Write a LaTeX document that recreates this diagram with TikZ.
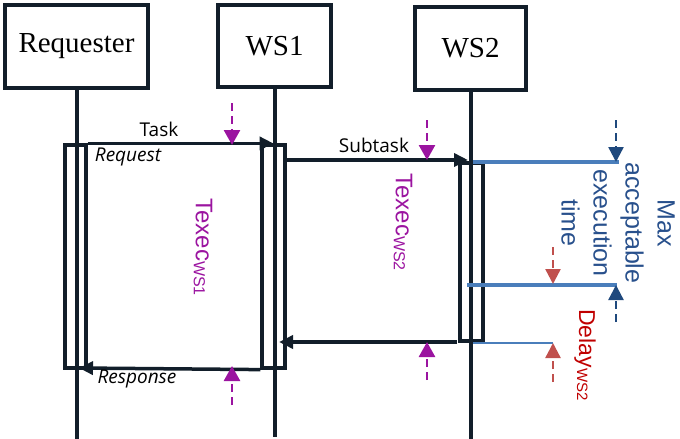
\documentclass[tikz,border=0pt]{standalone}
\usepackage{fontspec}
\setmainfont{Liberation Serif}
\newfontfamily\labfont{Open Sans}
\newfontfamily\arialfont{Liberation Sans}
\usetikzlibrary{arrows.meta}
\definecolor{ink}{RGB}{18,30,42}
\definecolor{magc}{RGB}{155,20,160}
\definecolor{bline}{RGB}{74,126,187}
\definecolor{dblue}{RGB}{31,73,125}
\definecolor{tblue}{RGB}{40,80,140}
\definecolor{mred}{RGB}{192,0,0}
\definecolor{lred}{RGB}{192,80,77}
\begin{document}
\begin{tikzpicture}[x=1pt,y=-1pt,
  actor/.style={draw=ink,line width=4pt,inner sep=0pt,font=\fontsize{29}{34}\selectfont},
  life/.style={draw=ink,line width=4pt},
  actbar/.style={draw=ink,line width=3.2pt,inner sep=0pt},
  msg/.style={draw=ink,line width=3.5pt,-{Triangle[length=14pt,width=13pt]}},
  lab/.style={font=\labfont\fontsize{19}{22}\selectfont,text=black,inner sep=0pt},
  ilab/.style={font=\labfont\itshape\fontsize{19}{22}\selectfont,text=black,inner sep=0pt},
  magdash/.style={draw=magc,line width=2.6pt,dash pattern=on 8pt off 5pt,-{Triangle[length=15pt,width=16pt]}},
  bluedash/.style={draw=dblue,line width=2.4pt,dash pattern=on 8pt off 5pt,-{Triangle[length=15pt,width=15pt]}},
  reddash/.style={draw=lred,line width=2.4pt,dash pattern=on 8pt off 5pt,-{Triangle[length=15pt,width=15pt]}},
  bluesolid/.style={draw=bline,line width=4pt},
  rottext/.style={rotate=-90,inner sep=0pt,font=\arialfont\fontsize{24}{28}\selectfont}
]
\useasboundingbox (0,0) rectangle (680,439);

% actors
\node[actor,minimum width=143pt,minimum height=83pt] (req) at (76.5,46.5) {Requester};
\node[actor,minimum width=113pt,minimum height=82pt] (ws1) at (274.5,46) {WS1};
\node[actor,minimum width=111pt,minimum height=83pt] (ws2) at (470.5,48.5) {WS2};

% lifelines
\draw[life] (req.south) -- ++(0,351);
\draw[life] (ws1.south) -- ++(0,348);
\draw[life] (ws2.south) -- ++(0,349);

% activation bars
\node[actbar,minimum width=21pt,minimum height=223pt] (rb) at (75.5,256.5) {};
\node[actbar,minimum width=23pt,minimum height=223pt] (w1b) at (273.5,256.5) {};
\node[actbar,minimum width=23pt,minimum height=178pt] (w2b) at (471.5,252) {};

% coordinates for messages
\coordinate (st1) at (285,160);
\coordinate (st2) at (468,160);
\coordinate (rt1) at (457,342);
\coordinate (rt2) at (279,342);
\coordinate (rs2) at (79,368);

% messages
\draw[msg] (rb.north east) -- (w1b.north);
\draw[msg] (st1) -- (st2);
\draw[msg] (rt1) -- (rt2);
\draw[msg] (w1b.south west) -- (rs2);

\node[lab] (task) at (159,129) {Task};
\node[ilab] (reqlab) at (128,157) {Request};
\node[lab] (subtask) at (374,145) {Subtask};
\node[ilab] (resplab) at (137,379) {Response};

% blue execution lines
\coordinate (b1a) at (473,162);
\coordinate (b1b) at (619,162);
\coordinate (b2a) at (467,285);
\coordinate (b2b) at (617,285);
\coordinate (b3a) at (473,343);
\coordinate (b3b) at (553,343);
\draw[bluesolid] (b1a) -- (b1b);
\draw[bluesolid] (b2a) -- (b2b);
\draw[draw=bline,line width=2.2pt] (b3a) -- (b3b);

% magenta markers
\coordinate (m1t) at (232,103);
\coordinate (m1a) at (232,145);
\coordinate (m1b) at (232,405);
\coordinate (m1c) at (232,366);
\draw[magdash] (m1t) -- (m1a);
\draw[magdash] (m1b) -- (m1c);
\coordinate (m2t) at (427,120);
\coordinate (m2a) at (427,160);
\coordinate (m2b) at (427,380);
\coordinate (m2c) at (427,342);
\draw[magdash] (m2t) -- (m2a);
\draw[magdash] (m2b) -- (m2c);

% blue dashed markers
\coordinate (d1t) at (616,120);
\coordinate (d1a) at (616,162);
\coordinate (d1b) at (616,322);
\coordinate (d1c) at (616,285);
\draw[bluedash] (d1t) -- (d1a);
\draw[bluedash] (d1b) -- (d1c);

% red dashed markers
\coordinate (r1t) at (553,247);
\coordinate (r1a) at (553,284);
\coordinate (r1b) at (553,382);
\coordinate (r1c) at (553,343);
\draw[reddash] (r1t) -- (r1a);
\draw[reddash] (r1b) -- (r1c);

% rotated labels
\node[rottext,text=magc] (tx1) at (203,247) {Texec\raisebox{-2pt}{\fontsize{16}{18}\selectfont WS1}};
\node[rottext,text=magc] (tx2) at (403,222) {Texec\raisebox{-2pt}{\fontsize{16}{18}\selectfont WS2}};
\node[rotate=-90,inner sep=0pt,align=center,text=tblue,font=\arialfont\fontsize{25}{32}\selectfont] (maxt) at (618,223) {Max\\acceptable\\execution\\time};
\node[rottext,text=mred,font=\arialfont\fontsize{23}{27}\selectfont] (dly) at (585,355) {Delay\raisebox{-2pt}{\fontsize{15}{18}\selectfont WS2}};
\end{tikzpicture}
\end{document}
